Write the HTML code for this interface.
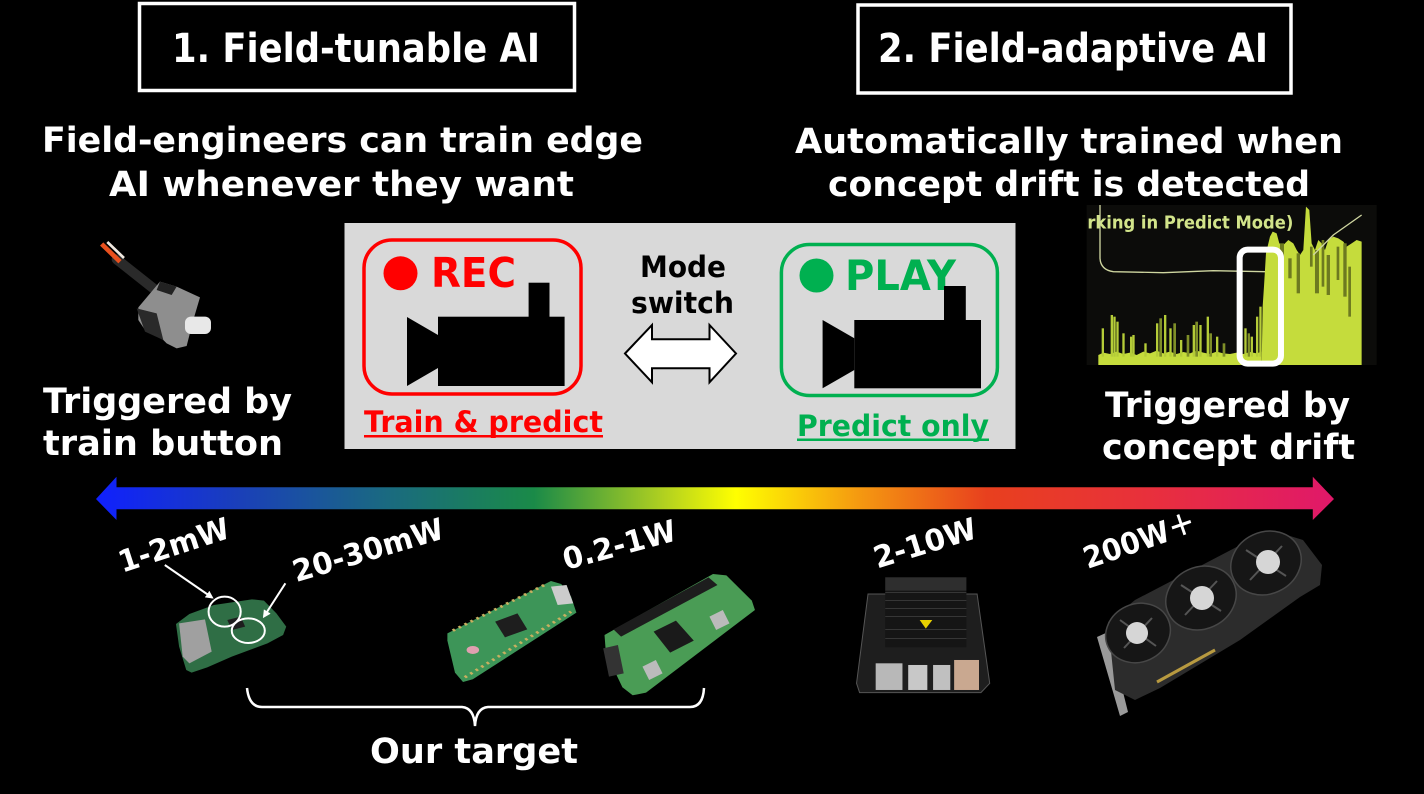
<!DOCTYPE html>
<html><head><meta charset="utf-8"><style>
html,body{margin:0;padding:0;background:#000;width:1424px;height:794px;overflow:hidden}
svg{display:block}
text{font-family:"DejaVu Sans","Liberation Sans","Noto Sans CJK JP",sans-serif;font-weight:bold}
</style></head><body>
<svg width="1424" height="794" viewBox="0 0 1424 794" xmlns="http://www.w3.org/2000/svg">
<defs>
<linearGradient id="rb" x1="95" y1="0" x2="1335" y2="0" gradientUnits="userSpaceOnUse">
<stop offset="0" stop-color="#1020ff"/>
<stop offset="0.118" stop-color="#1a40b8"/>
<stop offset="0.236" stop-color="#1a6a80"/>
<stop offset="0.354" stop-color="#1a8a48"/>
<stop offset="0.458" stop-color="#b0d020"/>
<stop offset="0.517" stop-color="#ffff00"/>
<stop offset="0.615" stop-color="#f59a10"/>
<stop offset="0.719" stop-color="#e8401e"/>
<stop offset="0.85" stop-color="#e8303c"/>
<stop offset="1" stop-color="#e0186a"/>
</linearGradient>
<marker id="ah" markerWidth="8" markerHeight="8" refX="6" refY="4" orient="auto" markerUnits="userSpaceOnUse">
<path d="M0,0 L8,4 L0,8 Z" fill="#fff"/>
</marker>
</defs>
<rect width="1424" height="794" fill="#000"/>

<!-- Titles -->
<rect x="139.5" y="3.5" width="435" height="87" fill="none" stroke="#fff" stroke-width="3.5"/>
<text x="172" y="62" font-size="40" fill="#fff" textLength="368" lengthAdjust="spacingAndGlyphs">1. Field-tunable AI</text>
<rect x="858" y="5" width="433" height="88" fill="none" stroke="#fff" stroke-width="3.5"/>
<text x="878" y="62" font-size="40" fill="#fff" textLength="390" lengthAdjust="spacingAndGlyphs">2. Field-adaptive AI</text>

<!-- Subtitles -->
<text x="42" y="152" font-size="35" fill="#fff" textLength="601" lengthAdjust="spacingAndGlyphs">Field-engineers can train edge</text>
<text x="109" y="196" font-size="35" fill="#fff" textLength="465" lengthAdjust="spacingAndGlyphs">AI whenever they want</text>
<text x="795" y="153" font-size="35" fill="#fff" textLength="548" lengthAdjust="spacingAndGlyphs">Automatically trained when</text>
<text x="828" y="196" font-size="35" fill="#fff" textLength="482" lengthAdjust="spacingAndGlyphs">concept drift is detected</text>

<!-- Train button image -->
<g transform="translate(20,220) scale(0.3333)">
<path d="M290,118 L400,205" stroke="#2a2a2a" stroke-width="30" fill="none" stroke-linecap="round"/>
<path d="M245,72 L300,125" stroke="#e8501e" stroke-width="14" fill="none"/>
<path d="M262,66 L312,114" stroke="#f0e8e0" stroke-width="8" fill="none"/>
<polygon points="355,262 420,185 470,200 540,232 520,300 500,378 470,385 440,370 430,360 375,330 355,300" fill="#8e8e8e"/>
<polygon points="420,185 470,200 455,225 410,210" fill="#222"/>
<polygon points="350,265 410,280 430,360 375,335" fill="#2a2a2a"/>
<rect x="495" y="290" width="78" height="52" rx="18" fill="#e8e8e8"/>
</g>

<text x="43" y="413" font-size="35" fill="#fff" textLength="249" lengthAdjust="spacingAndGlyphs">Triggered by</text>
<text x="43" y="455" font-size="35" fill="#fff" textLength="240" lengthAdjust="spacingAndGlyphs">train button</text>
<text x="1105" y="417" font-size="35" fill="#fff" textLength="245" lengthAdjust="spacingAndGlyphs">Triggered by</text>
<text x="1102" y="459" font-size="35" fill="#fff" textLength="253" lengthAdjust="spacingAndGlyphs">concept drift</text>

<!-- Gray panel -->
<rect x="344.5" y="223" width="671" height="226" fill="#d9d9d9"/>
<rect x="364" y="240" width="217" height="154" rx="28" fill="none" stroke="#ff0000" stroke-width="3.5"/>
<circle cx="400.5" cy="273.3" r="17" fill="#ff0000"/>
<text x="431" y="287" font-size="41" fill="#ff0000" textLength="85" lengthAdjust="spacingAndGlyphs">REC</text>
<polygon points="407,317 438,335 438,368 407,386" fill="#000"/>
<rect x="438" y="316.7" width="126.6" height="69.3" fill="#000"/>
<rect x="528.6" y="282.7" width="20.9" height="34.5" fill="#000"/>

<rect x="781.4" y="244.5" width="216" height="151" rx="28" fill="none" stroke="#00b050" stroke-width="3.5"/>
<circle cx="816.5" cy="275.5" r="17" fill="#00b050"/>
<text x="845" y="290" font-size="42" fill="#00b050" textLength="111" lengthAdjust="spacingAndGlyphs">PLAY</text>
<polygon points="822.6,320 854.3,338.3 854.3,370 822.6,388.3" fill="#000"/>
<rect x="854.3" y="320" width="126.7" height="68.3" fill="#000"/>
<rect x="944" y="286" width="21.8" height="34.5" fill="#000"/>

<text x="640" y="277" font-size="29" fill="#000" textLength="86" lengthAdjust="spacingAndGlyphs">Mode</text>
<text x="631" y="313" font-size="29" fill="#000" textLength="103" lengthAdjust="spacingAndGlyphs">switch</text>
<polygon points="625,353.5 652,325 652,339.3 709.5,339.3 709.5,325 736,353.5 709.5,382.3 709.5,368.3 652,368.3 652,382.3" fill="#fff" stroke="#000" stroke-width="2"/>

<text x="364" y="432" font-size="29" fill="#ff0000" textLength="239" lengthAdjust="spacingAndGlyphs">Train &amp; predict</text>
<rect x="364" y="435" width="239" height="2.5" fill="#ff0000"/>
<text x="797" y="436" font-size="29" fill="#00b050" textLength="192" lengthAdjust="spacingAndGlyphs">Predict only</text>
<rect x="797" y="438.5" width="192" height="2.5" fill="#00b050"/>

<!-- Chart image -->
<g transform="translate(1080,200) scale(0.3333)">
<rect x="20" y="15" width="870" height="480" fill="#0c0c0a"/>
<text x="22" y="86" font-size="52" fill="#d2e48a" textLength="618" lengthAdjust="spacingAndGlyphs">rking in Predict Mode)</text>
<path d="M60,15 L60,175 Q62,210 100,215 L250,218 L400,212 L555,215" stroke="#cfd6a0" stroke-width="4" fill="none"/>
<polygon points="55,495 55,465 70,458 90,462 110,455 130,462 150,458 170,465 190,455 210,460 230,452 250,460 270,455 290,462 310,456 330,460 350,452 370,458 390,462 410,455 430,460 450,462 470,458 490,462 510,456 530,460 545,455 545,495" fill="#c5dc3c"/>
<g fill="#b5cc38">
<rect x="65" y="385" width="7" height="85"/><rect x="92" y="345" width="7" height="125"/><rect x="100" y="350" width="7" height="120"/><rect x="109" y="365" width="7" height="105"/><rect x="127" y="400" width="7" height="70"/><rect x="150" y="410" width="7" height="60"/><rect x="157" y="405" width="7" height="65"/><rect x="193" y="430" width="7" height="40"/><rect x="228" y="370" width="7" height="100"/><rect x="252" y="345" width="7" height="125"/><rect x="268" y="385" width="7" height="85"/><rect x="300" y="420" width="7" height="50"/><rect x="338" y="375" width="7" height="95"/><rect x="358" y="375" width="7" height="95"/><rect x="380" y="350" width="7" height="120"/><rect x="408" y="410" width="7" height="60"/><rect x="493" y="385" width="7" height="85"/><rect x="512" y="410" width="7" height="60"/><rect x="528" y="350" width="7" height="120"/><rect x="538" y="320" width="7" height="150"/>
</g>
<g fill="#7f8f28">
<rect x="238" y="355" width="8" height="115"/><rect x="280" y="370" width="8" height="100"/><rect x="320" y="405" width="8" height="65"/><rect x="346" y="365" width="8" height="105"/><rect x="388" y="400" width="8" height="70"/><rect x="428" y="430" width="8" height="40"/><rect x="503" y="400" width="7" height="70"/>
</g>
<polygon points="545,495 548,320 552,260 558,160 570,110 578,95 590,100 598,130 610,135 625,120 640,130 650,150 660,165 670,150 678,20 688,30 695,130 705,150 715,120 725,130 735,150 745,120 760,110 775,115 790,125 800,140 815,130 830,120 845,125 845,495" fill="#c5dc3c"/>
<g fill="#6d7a20">
<rect x="600" y="130" width="12" height="110"/><rect x="625" y="175" width="10" height="60"/><rect x="650" y="160" width="10" height="120"/><rect x="690" y="140" width="8" height="60"/><rect x="705" y="150" width="12" height="130"/><rect x="725" y="120" width="8" height="140"/><rect x="740" y="165" width="10" height="120"/><rect x="770" y="140" width="8" height="100"/><rect x="790" y="130" width="10" height="160"/><rect x="805" y="200" width="8" height="150"/>
</g>
<path d="M700,165 L760,105 L845,45" stroke="#cfd6a0" stroke-width="4" fill="none"/>
<rect x="479" y="149" width="124" height="342" rx="24" fill="none" stroke="#fff" stroke-width="18"/>
</g>

<!-- Gradient arrow -->
<polygon points="96,499 116.5,476.7 116.5,487.3 1312.8,487.3 1312.8,476.7 1334,499 1312.8,520 1312.8,509.3 116.5,509.3 116.5,520" fill="url(#rb)"/>

<!-- Power labels -->
<text transform="translate(177,555) rotate(-18)" text-anchor="middle" font-size="30" fill="#fff" textLength="115" lengthAdjust="spacingAndGlyphs">1-2mW</text>
<text transform="translate(371,560) rotate(-16.5)" text-anchor="middle" font-size="30" fill="#fff" textLength="156" lengthAdjust="spacingAndGlyphs">20-30mW</text>
<text transform="translate(622,555) rotate(-15)" text-anchor="middle" font-size="30" fill="#fff" textLength="116" lengthAdjust="spacingAndGlyphs">0.2-1W</text>
<text transform="translate(928,553) rotate(-17)" text-anchor="middle" font-size="30" fill="#fff" textLength="106" lengthAdjust="spacingAndGlyphs">2-10W</text>
<text transform="translate(1143,550) rotate(-19)" text-anchor="middle" font-size="30" fill="#fff" textLength="117" lengthAdjust="spacingAndGlyphs">200W＋</text>

<!-- Left devices (zoom3 frame) -->
<g transform="translate(80,470) scale(0.4464,0.3333)">
<polygon points="215,462 245,432 300,405 385,388 412,392 440,430 462,470 455,495 420,520 340,560 285,592 250,608 238,600 222,530" fill="#2f6e45"/>
<polygon points="222,460 280,448 295,545 245,580 230,560" fill="#a0a0a0"/>
<polygon points="330,450 360,440 370,470 340,480" fill="#1e1e1e"/>
<ellipse cx="324" cy="425" rx="36" ry="45" fill="none" stroke="#fff" stroke-width="2" vector-effect="non-scaling-stroke"/>
<ellipse cx="377" cy="482" rx="37" ry="37" fill="none" stroke="#fff" stroke-width="2" vector-effect="non-scaling-stroke"/>

<polygon points="823,490 1055,333 1078,342 1100,380 1112,428 880,628 858,636 840,608 823,512" fill="#3d9558"/>
<line x1="835" y1="482" x2="1048" y2="340" stroke="#c8b060" stroke-width="8" stroke-dasharray="6 10"/>
<line x1="862" y1="622" x2="1100" y2="425" stroke="#c8b060" stroke-width="8" stroke-dasharray="6 10"/>
<polygon points="1055,350 1090,345 1105,400 1070,405" fill="#ccc"/>
<polygon points="930,455 980,430 1002,478 952,502" fill="#1e1e1e"/>
<ellipse cx="880" cy="540" rx="14" ry="12" fill="#e0a0b0"/>

<polygon points="1175,495 1418,312 1448,316 1505,392 1512,420 1268,668 1238,676 1215,652 1178,548" fill="#4a9c55"/>
<polygon points="1195,478 1408,322 1428,345 1212,500" fill="#1d1d1d"/>
<polygon points="1285,485 1335,452 1375,512 1322,548" fill="#1a1a1a"/>
<polygon points="1172,535 1205,525 1218,610 1185,620" fill="#333"/>
<polygon points="1410,440 1440,420 1455,460 1425,480" fill="#bbb"/>
<polygon points="1260,590 1290,570 1305,610 1275,630" fill="#bbb"/>
</g>

<line x1="164.8" y1="565" x2="212" y2="597.5" stroke="#fff" stroke-width="2" marker-end="url(#ah)"/>
<line x1="285.4" y1="583.3" x2="264" y2="616.5" stroke="#fff" stroke-width="2" marker-end="url(#ah)"/>

<!-- Jetson (zoom4 frame) -->
<g transform="translate(780,470) scale(0.3827,0.3333)">
<polygon points="230,372 515,372 548,640 525,668 208,668 200,640" fill="#1e1e1e" stroke="#555" stroke-width="1" vector-effect="non-scaling-stroke"/>
<rect x="275" y="322" width="212" height="210" fill="#151515"/>
<rect x="275" y="322" width="212" height="40" fill="#2e2e2e"/>
<g stroke="#4a4a4a" stroke-width="2" vector-effect="non-scaling-stroke">
<line x1="275" y1="368" x2="487" y2="368"/><line x1="275" y1="392" x2="487" y2="392"/><line x1="275" y1="415" x2="487" y2="415"/><line x1="275" y1="440" x2="487" y2="440"/><line x1="275" y1="478" x2="487" y2="478"/><line x1="275" y1="505" x2="487" y2="505"/>
</g>
<polygon points="365,450 398,450 381,476" fill="#e8d000"/>
<rect x="250" y="580" width="70" height="80" fill="#b8b8b8"/>
<rect x="335" y="585" width="50" height="75" fill="#c8c8c8"/>
<rect x="400" y="585" width="45" height="75" fill="#c0c0c0"/>
<rect x="455" y="570" width="65" height="90" fill="#c9a890"/>
</g>

<!-- GPU (original coords) -->
<g>
<polygon points="1097,637 1108,632 1128,712 1120,716" fill="#9a9a9a"/>
<polygon points="1108,622 1135,600 1250,540 1277,532 1303,540 1322,565 1320,585 1300,597 1240,640 1215,655 1160,688 1135,700 1115,690" fill="#2c2c2c"/>
<line x1="1157" y1="682" x2="1215" y2="650" stroke="#b89a40" stroke-width="3"/>
<g fill="#161616" stroke="#474747" stroke-width="1.5">
<ellipse cx="1266" cy="563" rx="36" ry="31" transform="rotate(-25 1266 563)"/>
<ellipse cx="1201" cy="598" rx="36" ry="31" transform="rotate(-25 1201 598)"/>
<ellipse cx="1138" cy="633" rx="33" ry="29" transform="rotate(-25 1138 633)"/>
</g>
<g stroke="#555" stroke-width="2">
<line x1="1246" y1="550" x2="1286" y2="576"/><line x1="1250" y1="580" x2="1282" y2="546"/>
<line x1="1181" y1="585" x2="1221" y2="611"/><line x1="1185" y1="615" x2="1217" y2="581"/>
<line x1="1120" y1="620" x2="1156" y2="646"/><line x1="1124" y1="648" x2="1152" y2="618"/>
</g>
<g fill="#d6d6d6">
<ellipse cx="1268" cy="562" rx="12" ry="12"/>
<ellipse cx="1202" cy="598" rx="12" ry="12"/>
<ellipse cx="1137" cy="633" rx="11" ry="11"/>
</g>
</g>

<!-- Brace -->
<path d="M247,688 Q249,707 262,707 L462,707 Q474,708 475,726 Q476,708 488,707 L690,707 Q703,707 704,688" stroke="#fff" stroke-width="2.5" fill="none"/>
<text x="370" y="763" font-size="35" fill="#fff" textLength="208" lengthAdjust="spacingAndGlyphs">Our target</text>
</svg>
</body></html>
